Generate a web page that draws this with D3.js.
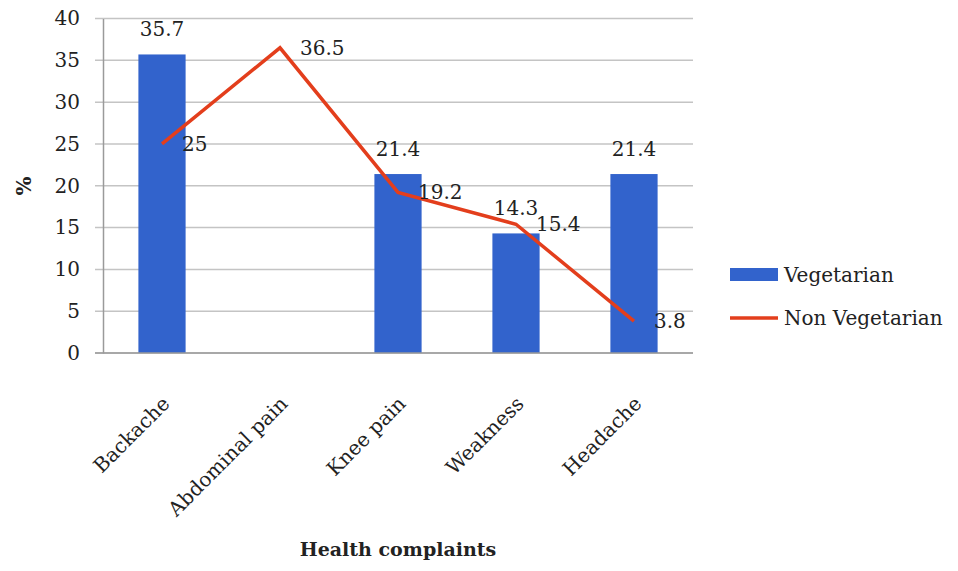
<!DOCTYPE html>
<html>
<head>
<meta charset="utf-8">
<script src="https://cdn.jsdelivr.net/npm/d3@7"></script>
<style>
  body { margin: 0; background: #fff; }
  text { font-family: "DejaVu Serif", "Liberation Serif", serif; fill: #222; }
</style>
</head>
<body>
<svg id="chart" width="958" height="571"></svg>
<script>
// Share of respondents (%) reporting each health complaint
const categories = ["Backache", "Abdominal pain", "Knee pain", "Weakness", "Headache"];
const vegetarian = [35.7, null, 21.4, 14.3, 21.4];
const nonVegetarian = [25, 36.5, 19.2, 15.4, 3.8];
const yTicks = [0, 5, 10, 15, 20, 25, 30, 35, 40];
const seriesNames = ["Vegetarian", "Non Vegetarian"];
const yTitle = "%";
const xTitle = "Health complaints";

const barColor = "#3263cc";
const lineColor = "#e33e1c";
const fontSize = 20;

const svg = d3.select("#chart");
const plot = { left: 103, right: 693, top: 18.5, bottom: 353 };

const x = d3.scaleBand().domain(categories).range([plot.left, plot.right]).padding(0);
const y = d3.scaleLinear().domain([0, 40]).range([plot.bottom, plot.top]);
const cx = c => x(c) + x.bandwidth() / 2;
const barW = x.bandwidth() * 0.4;

// horizontal gridlines with short outside ticks
svg.append("g").selectAll("line").data(yTicks).join("line")
  .attr("x1", plot.left - 8).attr("x2", plot.right)
  .attr("y1", d => y(d)).attr("y2", d => y(d))
  .attr("stroke", "#c4c4c4").attr("stroke-width", 1.5);

// y axis
const yAxis = d3.axisLeft(y).tickValues(yTicks).tickSize(0).tickPadding(23);
const gy = svg.append("g").attr("transform", `translate(${plot.left},0)`).call(yAxis);
gy.select(".domain").attr("stroke", "#9a9a9a").attr("stroke-width", 1.5);
gy.selectAll("text").style("font-size", fontSize + "px").style("font-family", "DejaVu Serif").attr("fill", "#222");

// bars
const vegData = categories.map((c, i) => ({ c, v: vegetarian[i] })).filter(d => d.v != null);
svg.append("g").selectAll("rect").data(vegData).join("rect")
  .attr("x", d => cx(d.c) - barW / 2)
  .attr("width", barW)
  .attr("y", d => y(d.v))
  .attr("height", d => y(0) - y(d.v))
  .attr("fill", barColor);

// x axis baseline
svg.append("line")
  .attr("x1", plot.left - 8).attr("x2", plot.right)
  .attr("y1", y(0)).attr("y2", y(0))
  .attr("stroke", "#9a9a9a").attr("stroke-width", 1.5);

// category labels, rotated
const xAxis = d3.axisBottom(x).tickSize(0).tickPadding(0);
const gx = svg.append("g").attr("transform", `translate(0,${y(0)})`).call(xAxis);
gx.select(".domain").remove();
gx.selectAll("text")
  .style("font-size", fontSize + "px").style("font-family", "DejaVu Serif").attr("fill", "#222")
  .attr("text-anchor", "end")
  .attr("dy", "0.35em")
  .attr("y", 0)
  .attr("transform", "translate(4,47) rotate(-45)");

// non-vegetarian line
const lineData = categories.map((c, i) => ({ c, v: nonVegetarian[i] }));
svg.append("path")
  .datum(lineData)
  .attr("fill", "none")
  .attr("stroke", lineColor)
  .attr("stroke-width", 3.5)
  .attr("stroke-linejoin", "miter")
  .attr("d", d3.line().x(d => cx(d.c)).y(d => y(d.v)));

// value labels
svg.append("g").selectAll("text").data(vegData).join("text")
  .attr("x", d => cx(d.c)).attr("y", d => y(d.v) - 25)
  .attr("dy", "0.35em").attr("text-anchor", "middle")
  .style("font-size", fontSize + "px")
  .text(d => d.v);

svg.append("g").selectAll("text").data(lineData).join("text")
  .attr("x", d => cx(d.c) + 20).attr("y", d => y(d.v))
  .attr("dy", "0.35em").attr("text-anchor", "start")
  .style("font-size", fontSize + "px")
  .text(d => d.v);

// axis titles
svg.append("text")
  .attr("transform", "translate(24,186) rotate(-90)")
  .attr("text-anchor", "middle").attr("dy", "0.35em")
  .style("font-size", fontSize + "px").style("font-weight", "bold")
  .text(yTitle);

svg.append("text")
  .attr("x", 398).attr("y", 549)
  .attr("text-anchor", "middle").attr("dy", "0.35em")
  .style("font-size", "19px").style("font-weight", "bold")
  .text(xTitle);

// legend
const legend = svg.append("g").attr("transform", "translate(730,0)");
legend.append("rect").attr("x", 0).attr("y", 268).attr("width", 48).attr("height", 13).attr("fill", barColor);
legend.append("line").attr("x1", 0).attr("x2", 48).attr("y1", 318).attr("y2", 318)
  .attr("stroke", lineColor).attr("stroke-width", 3.5);
legend.selectAll("text").data(seriesNames).join("text")
  .attr("x", 54).attr("y", (d, i) => i === 0 ? 274.5 : 318)
  .attr("dy", "0.35em")
  .style("font-size", fontSize + "px")
  .text(d => d);
</script>
</body>
</html>
